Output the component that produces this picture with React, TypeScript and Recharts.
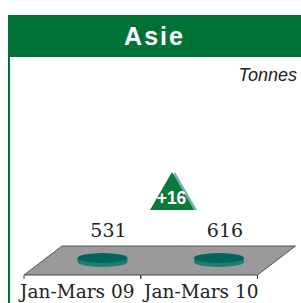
import { BarChart, Bar, XAxis, YAxis, LabelList } from "recharts";

const periods = ["Jan-Mars 09", "Jan-Mars 10"];
const tonnes = [531, 616];
const regionTitle = "Asie";
const unitLabel = "Tonnes";

const data = periods.map((period, i) => ({ period, value: tonnes[i] }));
const changePct = Math.round(((tonnes[1] - tonnes[0]) / tonnes[0]) * 100);
const changeLabel = `${changePct >= 0 ? "+" : ""}${changePct}`;

const GREEN = "#007236";
const DEPTH_X = 38;
const DEPTH_Y = 29;

function FloorPiece(props: any) {
  const { x, y, width, height, index } = props;
  const b = y + height;
  const last = index === periods.length - 1;
  return (
    <g>
      <polygon
        points={`${x},${b} ${x + width},${b} ${x + width + DEPTH_X},${b - DEPTH_Y} ${x + DEPTH_X},${b - DEPTH_Y}`}
        fill="#9a9a9a"
        stroke="none"
      />
      <line x1={x} y1={b} x2={x + width} y2={b} stroke="#444" strokeWidth={1} />
      <line x1={x + DEPTH_X} y1={b - DEPTH_Y} x2={x + width + DEPTH_X} y2={b - DEPTH_Y} stroke="#555" strokeWidth={1} />
      {index === 0 && (
        <line x1={x} y1={b} x2={x + DEPTH_X} y2={b - DEPTH_Y} stroke="#555" strokeWidth={1} />
      )}
      {last && (
        <line x1={x + width} y1={b} x2={x + width + DEPTH_X} y2={b - DEPTH_Y} stroke="#555" strokeWidth={1} />
      )}
      <line x1={x} y1={b} x2={x} y2={b + 4} stroke="#444" />
      <line x1={x + width} y1={b} x2={x + width} y2={b + 4} stroke="#444" />
    </g>
  );
}

function Disc(props: any) {
  const { x, y, width, height } = props;
  const b = y + height;
  const cx = x + width / 2 + 20;
  const cy = b - 17;
  const rx = 25;
  const ry = 5;
  const t = 4;
  return (
    <g>
      <ellipse cx={cx} cy={cy + t} rx={rx} ry={ry} fill="#1f7c72" />
      <rect x={cx - rx} y={cy} width={rx * 2} height={t} fill="#1f7c72" />
      <ellipse cx={cx} cy={cy} rx={rx} ry={ry} fill="#00665c" />
    </g>
  );
}

function ValueLabel(props: any) {
  const { x, y, width, height, value, index } = props;
  const b = y + height;
  return (
    <g>
      <text
        x={x + width / 2 + 26}
        y={b - 38}
        textAnchor="middle"
        fontFamily="DejaVu Serif"
        fontSize={19}
        fill="#222"
      >
        {value}
      </text>
      {index === 1 && (
        <g>
          <polygon
            points={`${x + 34.5},${b - 103} ${x + 56.5},${b - 65} ${x + 12.5},${b - 65}`}
            fill="#6fb3b0"
          />
          <polygon
            points={`${x + 31.5},${b - 103} ${x + 53.5},${b - 65} ${x + 9.5},${b - 65}`}
            fill="#0a7a3a"
          />
          <text
            x={x + 31}
            y={b - 71}
            textAnchor="middle"
            fontFamily="Liberation Sans, Arial, sans-serif"
            fontWeight="bold"
            fontSize={17.5}
            fill="#fff"
          >
            {changeLabel}
          </text>
        </g>
      )}
    </g>
  );
}

function PeriodTick(props: any) {
  const { x, y, payload, index } = props;
  const shift = index === 0 ? -5 : 2.5;
  return (
    <text
      x={x + shift}
      y={y + 15}
      textAnchor="middle"
      fontFamily="DejaVu Serif"
      fontSize={18.5}
      fill="#222"
    >
      {payload.value}
    </text>
  );
}

export default function App() {
  return (
    <div
      style={{
        position: "absolute",
        left: 0,
        top: 0,
        width: 301,
        height: 303,
        background: "#fff",
        overflow: "hidden",
      }}
    >
      <div
        style={{
          position: "absolute",
          left: 8,
          top: 15,
          width: 293,
          height: 42,
          background: GREEN,
          color: "#fff",
          fontFamily: "Liberation Sans, Arial, sans-serif",
          fontWeight: "bold",
          fontSize: 25,
          letterSpacing: 2,
          lineHeight: "42px",
          textAlign: "center",
        }}
      >
        {regionTitle}
      </div>
      <div
        style={{
          position: "absolute",
          left: 8,
          top: 57,
          width: 2,
          height: 246,
          background: GREEN,
        }}
      />
      <div
        style={{
          position: "absolute",
          right: 4,
          top: 65,
          fontFamily: "Liberation Sans, Arial, sans-serif",
          fontStyle: "italic",
          fontSize: 18,
          color: "#222",
        }}
      >
        {unitLabel}
      </div>
      <div style={{ position: "absolute", left: 0, top: 0 }}>
        <BarChart
          width={301}
          height={303}
          data={data}
          margin={{ top: 60, right: 44, bottom: 0, left: 24 }}
          barCategoryGap={0}
        >
          <XAxis
            dataKey="period"
            height={28}
            axisLine={false}
            tickLine={false}
            tick={<PeriodTick />}
            interval={0}
          />
          <YAxis hide domain={[0, 700]} />
          <Bar
            dataKey="value"
            isAnimationActive={false}
            background={<FloorPiece />}
            shape={<Disc />}
          >
            <LabelList dataKey="value" content={<ValueLabel />} />
          </Bar>
        </BarChart>
      </div>
    </div>
  );
}
